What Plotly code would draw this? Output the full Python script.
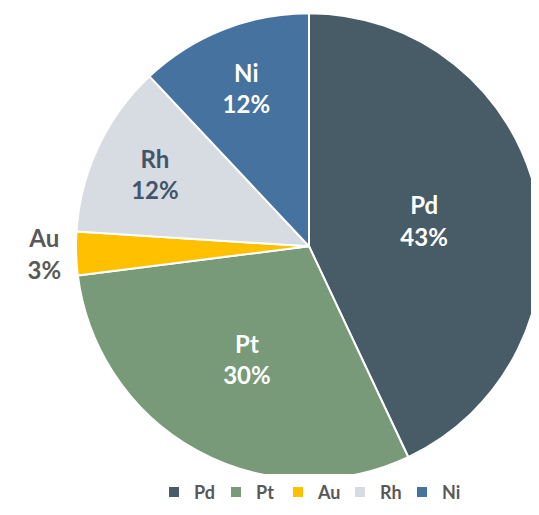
import plotly.graph_objects as go

metals = ["Pd", "Pt", "Au", "Rh", "Ni"]
shares = [43, 30, 3, 12, 12]
colors = ["#475C66", "#789A78", "#FFC000", "#D6DCE1", "#46729F"]
label_colors = ["white", "white", "#595959", "#44546A", "white"]
positions = ["inside", "inside", "outside", "inside", "inside"]

fig = go.Figure(go.Pie(
    labels=metals,
    values=shares,
    sort=False,
    direction="clockwise",
    rotation=0,
    domain=dict(x=[0, 1], y=[0.0854, 1]),
    marker=dict(colors=colors, line=dict(color="white", width=2)),
    texttemplate="%{label}<br>%{value}%",
    textposition=positions,
    insidetextorientation="horizontal",
    insidetextfont=dict(color=label_colors, size=24, family="Lato", weight="bold"),
    outsidetextfont=dict(color="#595959", size=24, family="Lato", weight="bold"),
    hoverinfo="label+percent",
))

fig.update_layout(
    width=539, height=515,
    margin=dict(l=68, r=0, t=0, b=0),
    paper_bgcolor="white",
    plot_bgcolor="white",
    showlegend=True,
    legend=dict(
        orientation="h", x=0.5, xanchor="center", y=0.06, yanchor="middle",
        font=dict(color="#595959", size=18, family="Lato", weight="bold"),
        itemwidth=30, entrywidth=17, entrywidthmode="pixels",
    ),
)
fig.write_html("out.html")
